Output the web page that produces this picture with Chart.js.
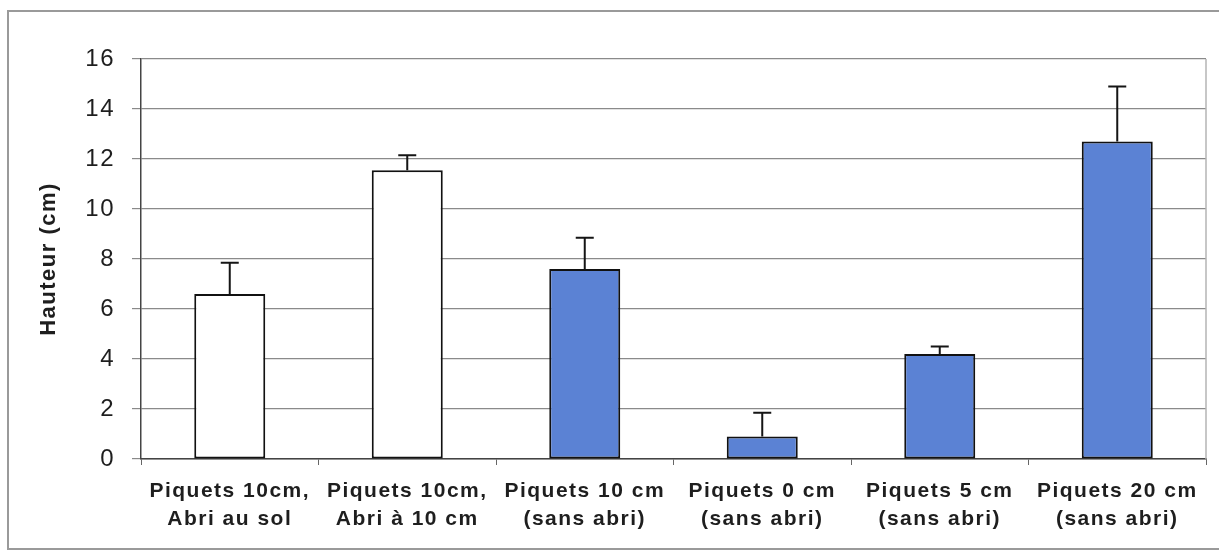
<!DOCTYPE html>
<html>
<head>
<meta charset="utf-8">
<script src="https://cdn.jsdelivr.net/npm/chart.js"></script>
<style>
    html, body { margin: 0; padding: 0; background: #fff; }
    #wrap { position: relative; width: 1219px; height: 551px; overflow: hidden; }
    #frame { position: absolute; left: 7px; top: 10px; width: 1230px; height: 536px; border: 2px solid #9a9a9a; }
    #box { position: absolute; left: 0; top: 0; width: 1219px; height: 551px; }
</style>
</head>
<body>
<div id="wrap">
    <div id="frame"></div>
    <div id="box"><canvas id="chart"></canvas></div>
</div>
<script>
// Data
const categories = [
    ['Piquets 10cm,', 'Abri au sol'],
    ['Piquets 10cm,', 'Abri à 10 cm'],
    ['Piquets 10 cm', '(sans abri)'],
    ['Piquets 0 cm', '(sans abri)'],
    ['Piquets 5 cm', '(sans abri)'],
    ['Piquets 20 cm', '(sans abri)']
];
const heights = [6.6, 11.55, 7.6, 0.9, 4.2, 12.7];
const errors = [1.25, 0.6, 1.25, 0.95, 0.3, 2.2];
const yTicks = [0, 2, 4, 6, 8, 10, 12, 14, 16];

const WHITE = '#ffffff';
const BLUE = '#5b82d4';
const barColors = [WHITE, WHITE, BLUE, BLUE, BLUE, BLUE];

const FONT = 'Arial, "Liberation Sans", sans-serif';

// upward-only error bars and the light frame on the right of the plot
const errorBars = {
    id: 'errorBars',
    beforeUpdate(chart) {
        chart.ctx.letterSpacing = '1.5px';
    },
    beforeDatasetsDraw(chart) {
        const { ctx, chartArea } = chart;
        ctx.save();
        ctx.strokeStyle = '#b4b4b4';
        ctx.lineWidth = 1.5;
        ctx.beginPath();
        ctx.moveTo(chartArea.right, chartArea.top);
        ctx.lineTo(chartArea.right, chartArea.bottom);
        ctx.stroke();
        ctx.restore();
    },
    afterDatasetsDraw(chart) {
        const { ctx, scales: { y } } = chart;
        const meta = chart.getDatasetMeta(0);
        ctx.save();
        ctx.strokeStyle = '#151515';
        ctx.lineWidth = 2;
        meta.data.forEach((bar, i) => {
            const top = y.getPixelForValue(heights[i] + errors[i]);
            ctx.beginPath();
            ctx.moveTo(bar.x, bar.y);
            ctx.lineTo(bar.x, top);
            ctx.moveTo(bar.x - 9, top);
            ctx.lineTo(bar.x + 9, top);
            ctx.stroke();
        });
        ctx.restore();
    }
};

new Chart(document.getElementById('chart'), {
    type: 'bar',
    data: {
        labels: categories,
        datasets: [{
            data: heights,
            backgroundColor: barColors,
            borderColor: '#111',
            borderWidth: 2,
            borderSkipped: false,
            categoryPercentage: 1,
            barPercentage: 0.4
        }]
    },
    options: {
        responsive: true,
        maintainAspectRatio: false,
        animation: false,
        layout: { padding: { left: 0, top: 59, right: 13, bottom: 0 } },
        plugins: {
            legend: { display: false },
            tooltip: { enabled: false }
        },
        scales: {
            x: {
                afterFit: (scale) => { scale.height = 92; },
                grid: {
                    offset: true,
                    drawOnChartArea: false,
                    drawTicks: true,
                    tickLength: 6,
                    color: '#666'
                },
                border: { color: '#444', width: 1.5 },
                ticks: {
                    color: '#1e1e1e',
                    padding: 13,
                    font: { family: FONT, size: 21, weight: 'bold', lineHeight: 1.3 }
                }
            },
            y: {
                min: 0,
                max: 16,
                afterFit: (scale) => { scale.width = 141; },
                afterBuildTicks: (scale) => {
                    scale.ticks = yTicks.map(v => ({ value: v }));
                },
                grid: {
                    color: '#8a8a8a',
                    lineWidth: 1.2,
                    tickLength: 9
                },
                border: { color: '#444', width: 1.5 },
                ticks: {
                    color: '#1e1e1e',
                    padding: 17,
                    font: { family: FONT, size: 24 }
                },
                title: {
                    display: true,
                    text: 'Hauteur (cm)',
                    color: '#1e1e1e',
                    padding: { top: 36, bottom: 0 },
                    font: { family: FONT, size: 22, weight: 'bold' }
                }
            }
        }
    },
    plugins: [errorBars]
});
</script>
</body>
</html>
